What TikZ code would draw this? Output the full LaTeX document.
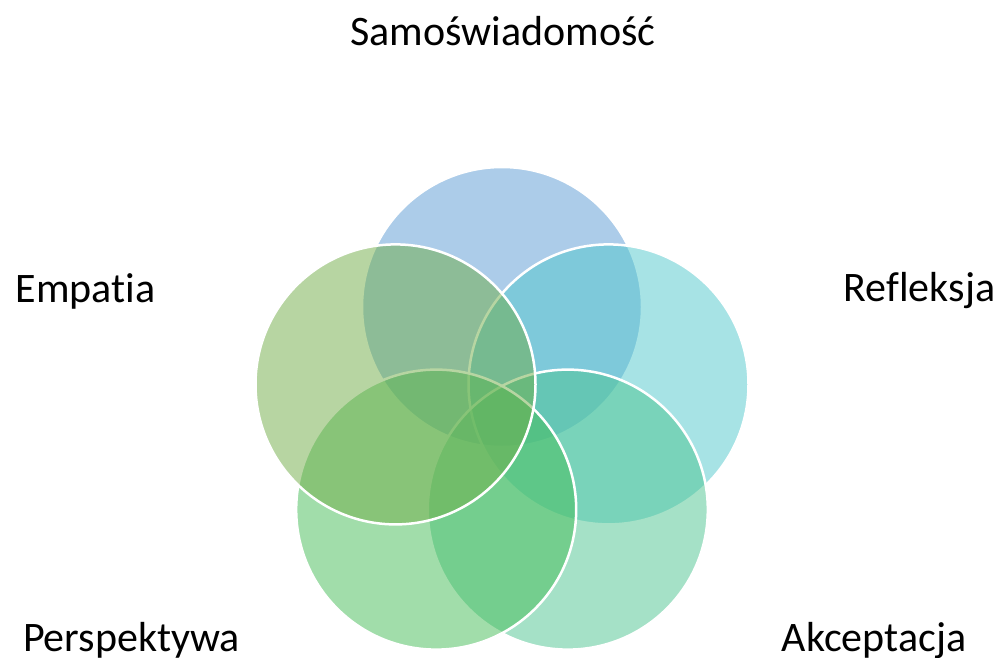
\documentclass[tikz,border=0pt]{standalone}
\usepackage{fontspec}
\setmainfont{Carlito}[Ligatures={NoCommon}]
\definecolor{cA}{RGB}{91,155,213}
\definecolor{cB}{RGB}{81,200,205}
\definecolor{cC}{RGB}{77,197,145}
\definecolor{cD}{RGB}{69,189,87}
\definecolor{cE}{RGB}{112,173,71}
\begin{document}
\begin{tikzpicture}[x=1pt,y=-1pt,
  venn/.style={circle, minimum size=280pt, inner sep=0pt, outer sep=0pt, draw=white, line width=2.5pt, fill opacity=0.5, draw opacity=1},
  lbl/.style={font=\fontsize{42}{50}\selectfont, inner sep=0pt, anchor=base}]
\useasboundingbox[fill=white] (0,0) rectangle (999,657);
\node[venn, fill=cA] (top) at (502,307) {};
\node[venn, fill=cB] (right) at (608.5,384.4) {};
\node[venn, fill=cC] (lowright) at (567.8,509.6) {};
\node[venn, fill=cD] (lowleft) at (436.2,509.6) {};
\node[venn, fill=cE] (left) at (395.5,384.4) {};
\node[lbl] (t1) at (503,45) {Samoświadomość};
\node[lbl] (t2) at (919.5,301) {Refleksja};
\node[lbl] (t3) at (874,651) {Akceptacja};
\node[lbl] (t4) at (131.5,651) {Perspektywa};
\node[lbl] (t5) at (85.5,302) {Empatia};
\end{tikzpicture}
\end{document}
